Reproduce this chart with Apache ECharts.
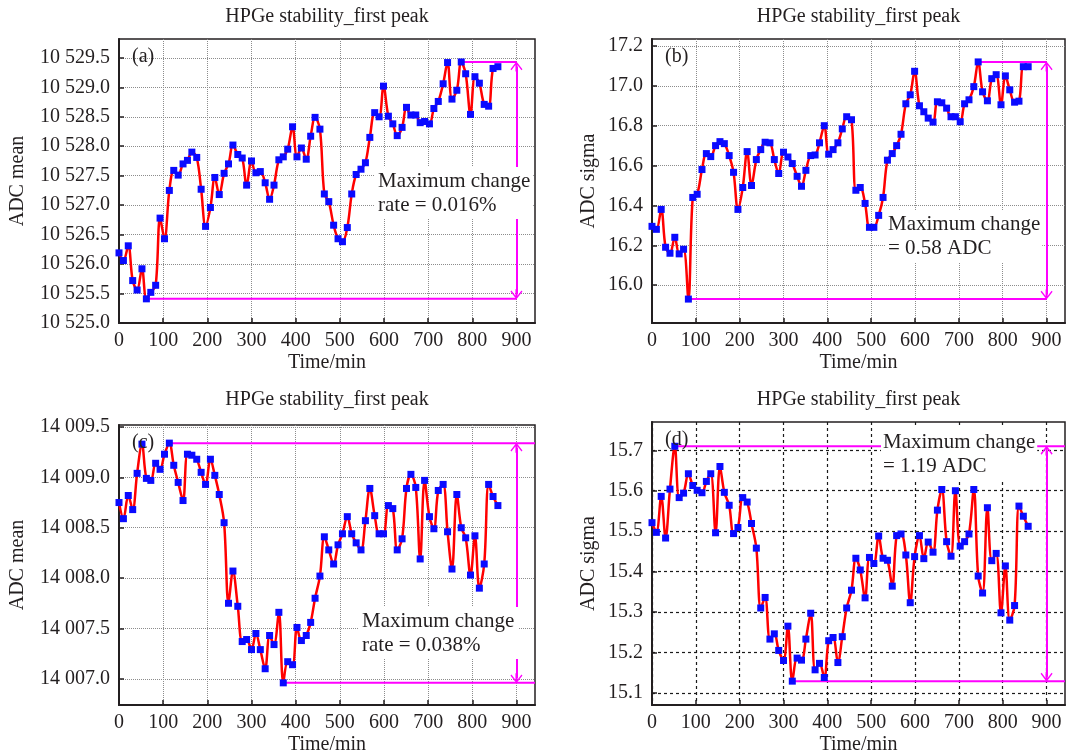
<!DOCTYPE html>
<html>
<head>
<meta charset="utf-8">
<script src="https://cdn.jsdelivr.net/npm/echarts@6/dist/echarts.min.js"></script>
<style>
  html, body { margin: 0; padding: 0; background: #fff; }
  #chart { width: 1066px; height: 756px; }
</style>
</head>
<body>
<div id="chart"></div>
<script>
// Acquisition times (min), shared by all four runs
const times = [0,10,21,31,41,52,62,72,83,93,
  103,114,124,134,145,155,165,176,186,196,
  207,217,227,238,248,258,269,279,289,300,
  310,320,331,341,351,362,372,382,393,403,
  413,424,434,444,455,465,475,486,496,506,
  517,527,537,548,558,568,579,589,599,610,
  620,630,641,651,661,672,682,692,703,713,
  723,734,744,754,765,775,785,796,806,816,
  827,837,847,858];

// (a) ADC mean of the first peak
const meanA = [10526.19,10526.06,10526.31,10525.72,10525.56,10525.92,10525.41,10525.52,10525.64,10526.78,
  10526.43,10527.25,10527.59,10527.51,10527.70,10527.76,10527.90,10527.81,10527.27,10526.64,
  10526.96,10527.47,10527.18,10527.54,10527.70,10528.02,10527.86,10527.80,10527.34,10527.75,
  10527.55,10527.57,10527.38,10527.10,10527.34,10527.77,10527.82,10527.95,10528.33,10527.82,
  10527.97,10527.78,10528.17,10528.49,10528.29,10527.19,10527.06,10526.66,10526.43,10526.38,
  10526.62,10527.19,10527.52,10527.61,10527.72,10528.15,10528.57,10528.50,10529.02,10528.51,
  10528.38,10528.18,10528.32,10528.66,10528.53,10528.53,10528.40,10528.42,10528.38,10528.64,
  10528.76,10529.06,10529.42,10528.80,10528.95,10529.43,10529.23,10528.54,10529.18,10529.07,
  10528.71,10528.68,10529.32,10529.35];

// (b) ADC sigma of the first peak
const sigmaB = [16.295,16.28,16.38,16.19,16.16,16.24,16.157,16.18,15.93,16.44,
  16.456,16.58,16.66,16.645,16.70,16.72,16.71,16.65,16.566,16.38,
  16.49,16.67,16.50,16.63,16.68,16.717,16.714,16.63,16.56,16.667,
  16.643,16.61,16.546,16.496,16.576,16.65,16.653,16.714,16.80,16.657,
  16.68,16.714,16.784,16.845,16.83,16.476,16.49,16.41,16.29,16.29,
  16.35,16.44,16.627,16.66,16.70,16.757,16.91,16.955,17.073,16.90,
  16.87,16.838,16.818,16.92,16.915,16.888,16.845,16.845,16.82,16.91,
  16.93,16.996,17.12,16.97,16.925,17.036,17.056,16.905,17.05,16.98,
  16.918,16.923,17.096,17.096];

// (c) ADC mean of the first peak
const meanC = [14008.75,14008.59,14008.82,14008.68,14009.04,14009.33,14008.99,14008.97,14009.14,14009.08,
  14009.23,14009.34,14009.12,14008.95,14008.77,14009.23,14009.22,14009.18,14009.05,14008.93,
  14009.18,14009.02,14008.83,14008.55,14007.75,14008.07,14007.72,14007.37,14007.39,14007.29,
  14007.45,14007.29,14007.10,14007.43,14007.34,14007.66,14006.96,14007.17,14007.14,14007.51,
  14007.38,14007.43,14007.56,14007.80,14008.02,14008.41,14008.28,14008.14,14008.33,14008.44,
  14008.61,14008.44,14008.35,14008.28,14008.57,14008.89,14008.62,14008.44,14008.44,14008.72,
  14008.69,14008.28,14008.39,14008.89,14009.03,14008.90,14008.19,14008.97,14008.61,14008.49,
  14008.87,14008.93,14008.46,14008.09,14008.83,14008.50,14008.40,14008.03,14008.42,14007.90,
  14008.14,14008.93,14008.81,14008.72];

// (d) ADC sigma of the first peak
const sigmaD = [15.521,15.497,15.586,15.483,15.604,15.71,15.583,15.594,15.642,15.613,
  15.601,15.595,15.623,15.642,15.496,15.66,15.596,15.564,15.494,15.509,
  15.583,15.572,15.519,15.458,15.31,15.336,15.233,15.246,15.205,15.18,
  15.265,15.129,15.186,15.181,15.233,15.297,15.157,15.173,15.138,15.229,
  15.237,15.175,15.239,15.31,15.354,15.433,15.404,15.335,15.435,15.42,
  15.488,15.433,15.428,15.364,15.489,15.493,15.441,15.323,15.437,15.489,
  15.432,15.473,15.448,15.552,15.603,15.474,15.438,15.60,15.463,15.474,
  15.493,15.603,15.389,15.347,15.558,15.427,15.445,15.298,15.414,15.28,
  15.316,15.562,15.537,15.512];

// Tick values
const xTicks = [0,100,200,300,400,500,600,700,800,900];
const yTicksA = [10525.0,10525.5,10526.0,10526.5,10527.0,10527.5,10528.0,10528.5,10529.0,10529.5];
const yTicksB = [16.0,16.2,16.4,16.6,16.8,17.0,17.2];
const yTicksC = [14007.0,14007.5,14008.0,14008.5,14009.0,14009.5];
const yTicksD = [15.1,15.2,15.3,15.4,15.5,15.6,15.7];

const FONT = '"Liberation Serif", "Times New Roman", serif';
const INK = '#231f20';
const MAGENTA = '#ff00ff';
const ARROW_X = 900;
const X_MAX = 942;

function spaced(v) {
  const parts = Number(v).toFixed(1).split('.');
  return parts[0].replace(/\B(?=(\d{3})+(?!\d))/g, ' ') + '.' + parts[1];
}
function oneDec(v) { return Number(v).toFixed(1); }

const panels = [
  { vals: meanA, yTicks: yTicksA, yMin: 10525.0, yMax: 10529.82, fmt: spaced,
    grid: { left: 119, top: 39, width: 416, height: 284 }, grids: 'dotted', titleY: 17,
    lineEnd: ARROW_X, tag: '(a)', yName: 'ADC mean',
    note: 'Maximum change\nrate = 0.016%', notePos: [375, 167], notePad: [2, 3] },
  { vals: sigmaB, yTicks: yTicksB, yMin: 15.81, yMax: 17.235, fmt: oneDec,
    grid: { left: 652, top: 39, width: 413, height: 284 }, grids: 'dotted', titleY: 17,
    lineEnd: ARROW_X, tag: '(b)', yName: 'ADC sigma',
    note: 'Maximum change\n= 0.58 ADC', notePos: [886, 210], notePad: [2, 2] },
  { vals: meanC, yTicks: yTicksC, yMin: 14006.74, yMax: 14009.52, fmt: spaced,
    grid: { left: 119, top: 425, width: 416, height: 280 }, grids: 'dotted', titleY: 400,
    lineEnd: X_MAX, tag: '(c)', yName: 'ADC mean',
    note: 'Maximum change\nrate = 0.038%', notePos: [358, 607], notePad: [2, 4] },
  { vals: sigmaD, yTicks: yTicksD, yMin: 15.07, yMax: 15.77, fmt: oneDec,
    grid: { left: 652, top: 422, width: 413, height: 283 }, grids: 'dashed', titleY: 400,
    lineEnd: X_MAX, tag: '(d)', yName: 'ADC sigma',
    note: 'Maximum change\n= 1.19 ADC', notePos: [881, 428], notePad: [2, 2] }
];

// open arrow head with a short stem, tip pointing up
const CHEVRON = 'path://M0,0L6,7L5,8L1,3.2L1,9L-1,9L-1,3.2L-5,8L-6,7Z';

const grids = [], xAxes = [], yAxes = [], series = [], graphics = [];

panels.forEach((p, i) => {
  grids.push(Object.assign({ show: true, borderColor: INK, borderWidth: 1.5,
    backgroundColor: 'transparent' }, p.grid));

  const splitStyle = p.grids === 'dashed'
    ? { type: [3, 3], color: '#1a1a1a', width: 1.2 }
    : { type: 'dotted', color: '#8c8c8c', width: 1 };

  xAxes.push({
    gridIndex: i, type: 'value', min: 0, max: X_MAX,
    axisLine: { show: true, onZero: false, lineStyle: { color: INK, width: 2 } },
    axisTick: { show: true, inside: true, length: 5, customValues: xTicks,
      lineStyle: { color: INK, width: 1.5 } },
    axisLabel: { customValues: xTicks, margin: 8, fontSize: 20, fontFamily: FONT, color: INK },
    splitLine: { show: true, lineStyle: splitStyle }
  });
  yAxes.push({
    gridIndex: i, type: 'value', min: p.yMin, max: p.yMax,
    axisLine: { show: true, onZero: false, lineStyle: { color: INK, width: 2 } },
    axisTick: { show: true, inside: true, length: 5, customValues: p.yTicks,
      lineStyle: { color: INK, width: 1.5 } },
    axisLabel: { customValues: p.yTicks, margin: 9, fontSize: 20, fontFamily: FONT, color: INK,
      formatter: p.fmt },
    splitLine: { show: true, lineStyle: splitStyle }
  });

  // extremes of the run
  let iMax = 0, iMin = 0;
  p.vals.forEach((v, k) => { if (v > p.vals[iMax]) iMax = k; if (v < p.vals[iMin]) iMin = k; });
  const vMax = p.vals[iMax], vMin = p.vals[iMin];
  const perPx = (p.yMax - p.yMin) / p.grid.height;
  const headOff = 4.5 * perPx;

  series.push({
    type: 'line', xAxisIndex: i, yAxisIndex: i, z: 1, silent: true,
    symbol: 'none', lineStyle: { color: MAGENTA, width: 2 },
    data: [[times[iMax], vMax], [p.lineEnd, vMax]],
    markLine: {
      silent: true, animation: false, symbol: [CHEVRON, CHEVRON], symbolSize: [12, 10],
      label: { show: false },
      lineStyle: { color: MAGENTA, width: 2, type: 'solid' },
      data: [[{ coord: [ARROW_X, vMax - headOff] }, { coord: [ARROW_X, vMin + headOff] }]]
    }
  });
  series.push({
    type: 'line', xAxisIndex: i, yAxisIndex: i, z: 1, silent: true,
    symbol: 'none', lineStyle: { color: MAGENTA, width: 2 },
    data: [[times[iMin], vMin], [p.lineEnd, vMin]]
  });
  series.push({
    type: 'line', xAxisIndex: i, yAxisIndex: i, z: 3,
    smooth: 0.35, symbol: 'rect', symbolSize: 7, showAllSymbol: true,
    itemStyle: { color: '#0a0aff' },
    lineStyle: { color: '#ff0000', width: 2.5 },
    data: times.map((t, k) => [t, p.vals[k]])
  });

  const cx = p.grid.left + p.grid.width / 2;
  const cy = p.grid.top + p.grid.height / 2;
  const bottom = p.grid.top + p.grid.height;

  graphics.push({ type: 'text', z: 100, x: cx, y: p.titleY,
    style: { text: 'HPGe stability_first peak', font: '20px ' + FONT, fill: INK,
      align: 'center', verticalAlign: 'middle' } });
  graphics.push({ type: 'text', z: 100, x: cx, y: bottom + 40,
    style: { text: 'Time/min', font: '20px ' + FONT, fill: INK,
      align: 'center', verticalAlign: 'middle' } });
  graphics.push({ type: 'text', z: 100, x: p.grid.left - (i % 2 ? 63 : 101), y: cy,
    rotation: Math.PI / 2,
    style: { text: p.yName, font: '20px ' + FONT, fill: INK,
      align: 'center', verticalAlign: 'middle' } });
  graphics.push({ type: 'text', z: 100, x: p.grid.left + 13, y: p.grid.top + 18,
    style: { text: p.tag, font: '20px ' + FONT, fill: INK,
      align: 'left', verticalAlign: 'middle' } });
  graphics.push({ type: 'text', z: 100, x: p.notePos[0], y: p.notePos[1],
    style: { text: p.note, font: '21px ' + FONT, fill: INK, lineHeight: 24,
      backgroundColor: '#ffffff', padding: p.notePad,
      align: 'left', verticalAlign: 'top' } });
});

const chart = echarts.init(document.getElementById('chart'), null, { renderer: 'canvas' });
chart.setOption({
  animation: false,
  backgroundColor: '#ffffff',
  grid: grids,
  xAxis: xAxes,
  yAxis: yAxes,
  series: series,
  graphic: graphics
});
</script>
</body>
</html>
